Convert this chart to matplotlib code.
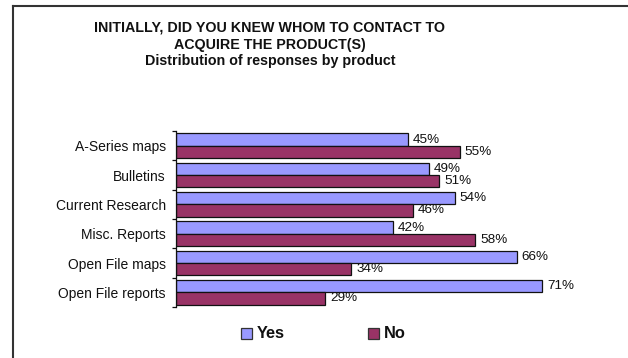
import matplotlib
matplotlib.use("Agg")
import matplotlib.pyplot as plt
from matplotlib.lines import Line2D
from matplotlib.patches import Rectangle
import numpy as np

plt.rcParams['font.family'] = ['Liberation Sans', 'DejaVu Sans']

products = ["A-Series maps", "Bulletins", "Current Research", "Misc. Reports",
            "Open File maps", "Open File reports"]
yes_pct = [45, 49, 54, 42, 66, 71]
no_pct = [55, 51, 46, 58, 34, 29]
series_names = ["Yes", "No"]
colors = ["#9999FF", "#993366"]

W, H = 628, 358
fig = plt.figure(figsize=(W / 100, H / 100), dpi=100)

def fx(px):
    return px / W

def fy(py):
    return 1 - py / H

# outer chart frame
fig.add_artist(Line2D([fx(12.5), fx(12.5)], [fy(5.5), fy(H + 5)], color="#333333", lw=1.5))
fig.add_artist(Line2D([fx(12.5), fx(W + 5)], [fy(5.5), fy(5.5)], color="#333333", lw=1.5))

ax = fig.add_axes([fx(175.5), fy(307), fx(589) - fx(175.5), fy(131) - fy(307)])
y = np.arange(len(products))
h = 0.42
bars_yes = ax.barh(y - h / 2, yes_pct, height=h, color=colors[0], edgecolor="#111111", lw=0.9)
bars_no = ax.barh(y + h / 2, no_pct, height=h, color=colors[1], edgecolor="#111111", lw=0.9)

for bars, vals in ((bars_yes, yes_pct), (bars_no, no_pct)):
    for b, v in zip(bars, vals):
        ax.annotate(f"{v}%", (v, b.get_y() + b.get_height() / 2), xytext=(3.5, 0),
                    textcoords="offset points", va="center", ha="left",
                    fontsize=9.7, color="#111111")

ax.set_xlim(0, 80)
ax.set_ylim(len(products) - 0.5, -0.5)
for s in ("top", "right", "bottom"):
    ax.spines[s].set_visible(False)
ax.spines["left"].set_color("#111111")
ax.spines["left"].set_linewidth(0.9)
ax.set_xticks([])
ax.set_yticks(y)
ax.set_yticklabels(products, fontsize=10, color="#111111")
ax.tick_params(axis="y", which="major", length=0, pad=7)
ax.set_yticks(np.arange(-0.5, len(products)), minor=True)
ax.tick_params(axis="y", which="minor", length=3, width=0.9, color="#111111", direction="out")

# title
title_lines = ["INITIALLY, DID YOU KNEW WHOM TO CONTACT TO", "ACQUIRE THE PRODUCT(S)",
               "Distribution of responses by product"]
for i, line in enumerate(title_lines):
    fig.text(fx(270), fy(28 + 16.5 * i), line, ha="center", va="center",
             fontsize=10.3, fontweight="bold", color="#111111")

# legend
legend_x = [241, 368]
for name, c, lx in zip(series_names, colors, legend_x):
    fig.add_artist(Rectangle((fx(lx), fy(339)), fx(11), fy(328) - fy(339),
                             facecolor=c, edgecolor="#333333", lw=0.9))
    fig.text(fx(lx + 15.5), fy(334), name, ha="left", va="center",
             fontsize=11.8, fontweight="bold", color="#111111")

fig.savefig("out.png", dpi=100)
